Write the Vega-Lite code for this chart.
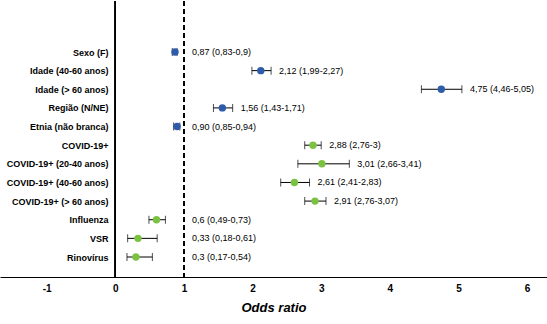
{
  "$schema": "https://vega.github.io/schema/vega-lite/v6.json",
  "width": 547,
  "height": 276,
  "padding": 0,
  "autosize": {"type": "pad"},
  "background": "white",
  "config": {"view": {"stroke": null}, "font": "Liberation Sans"},
  "data": {
    "values": [
      {"label": "Sexo (F)", "or": 0.87, "lo": 0.83, "hi": 0.9, "grupo": "a", "txt": "0,87 (0,83-0,9)"},
      {"label": "Idade (40-60 anos)", "or": 2.12, "lo": 1.99, "hi": 2.27, "grupo": "a", "txt": "2,12 (1,99-2,27)"},
      {"label": "Idade (> 60 anos)", "or": 4.75, "lo": 4.46, "hi": 5.05, "grupo": "a", "txt": "4,75 (4,46-5,05)"},
      {"label": "Região (N/NE)", "or": 1.56, "lo": 1.43, "hi": 1.71, "grupo": "a", "txt": "1,56 (1,43-1,71)"},
      {"label": "Etnia (não branca)", "or": 0.9, "lo": 0.85, "hi": 0.94, "grupo": "a", "txt": "0,90 (0,85-0,94)"},
      {"label": "COVID-19+", "or": 2.88, "lo": 2.76, "hi": 3.0, "grupo": "b", "txt": "2,88 (2,76-3)"},
      {"label": "COVID-19+ (20-40 anos)", "or": 3.01, "lo": 2.66, "hi": 3.41, "grupo": "b", "txt": "3,01 (2,66-3,41)"},
      {"label": "COVID-19+ (40-60 anos)", "or": 2.61, "lo": 2.41, "hi": 2.83, "grupo": "b", "txt": "2,61 (2,41-2,83)"},
      {"label": "COVID-19+ (> 60 anos)", "or": 2.91, "lo": 2.76, "hi": 3.07, "grupo": "b", "txt": "2,91 (2,76-3,07)"},
      {"label": "Influenza", "or": 0.6, "lo": 0.49, "hi": 0.73, "grupo": "b", "txt": "0,6 (0,49-0,73)"},
      {"label": "VSR", "or": 0.33, "lo": 0.18, "hi": 0.61, "grupo": "b", "txt": "0,33 (0,18-0,61)"},
      {"label": "Rinovírus", "or": 0.3, "lo": 0.17, "hi": 0.54, "grupo": "b", "txt": "0,3 (0,17-0,54)"}
    ]
  },
  "transform": [{"calculate": "max(datum.hi, 1)", "as": "lx"}],
  "encoding": {
    "y": {
      "field": "label",
      "type": "nominal",
      "sort": null,
      "scale": {"type": "point", "range": [51, 256], "padding": 0},
      "axis": {
        "title": null,
        "domain": false,
        "ticks": false,
        "offset": -115,
        "labelPadding": 7,
        "labelFontWeight": "bold",
        "labelFontSize": 9,
        "labelColor": "black"
      }
    }
  },
  "layer": [
    {
      "mark": {"type": "rule", "color": "black", "strokeWidth": 1},
      "encoding": {"x": {"datum": 0, "type": "quantitative"}, "y": null}
    },
    {
      "mark": {"type": "rule", "color": "black", "strokeWidth": 1, "strokeDash": [5, 3]},
      "encoding": {"x": {"datum": 1, "type": "quantitative"}, "y": null}
    },
    {
      "mark": {"type": "rule", "color": "black", "strokeWidth": 1},
      "encoding": {
        "x": {
          "field": "lo",
          "type": "quantitative",
          "scale": {"domain": [-1.68, 6.29], "nice": false, "zero": false},
          "axis": {
            "values": [-1, 0, 1, 2, 3, 4, 5, 6],
            "labelExpr": "'' + datum.value",
            "grid": false,
            "ticks": false,
            "domainColor": "black",
            "domainWidth": 1,
            "labelFontWeight": "bold",
            "labelFontSize": 10,
            "labelColor": "black",
            "labelPadding": 6,
            "title": "Odds ratio",
            "titleFontStyle": "italic",
            "titleFontWeight": "bold",
            "titleFontSize": 13,
            "titleColor": "black",
            "titlePadding": 8
          }
        },
        "x2": {"field": "hi"}
      }
    },
    {
      "mark": {"type": "tick", "orient": "vertical", "size": 8, "thickness": 1, "color": "black"},
      "encoding": {"x": {"field": "lo", "type": "quantitative"}}
    },
    {
      "mark": {"type": "tick", "orient": "vertical", "size": 8, "thickness": 1, "color": "black"},
      "encoding": {"x": {"field": "hi", "type": "quantitative"}}
    },
    {
      "mark": {"type": "point", "filled": true, "shape": "circle", "size": 55, "opacity": 1},
      "encoding": {
        "x": {"field": "or", "type": "quantitative"},
        "color": {
          "field": "grupo",
          "type": "nominal",
          "scale": {"domain": ["a", "b"], "range": ["#2e5caa", "#7cc242"]},
          "legend": null
        }
      }
    },
    {
      "mark": {"type": "text", "align": "left", "baseline": "middle", "dx": 8, "fontSize": 9, "color": "black"},
      "encoding": {
        "x": {"field": "lx", "type": "quantitative"},
        "text": {"field": "txt"}
      }
    }
  ]
}
